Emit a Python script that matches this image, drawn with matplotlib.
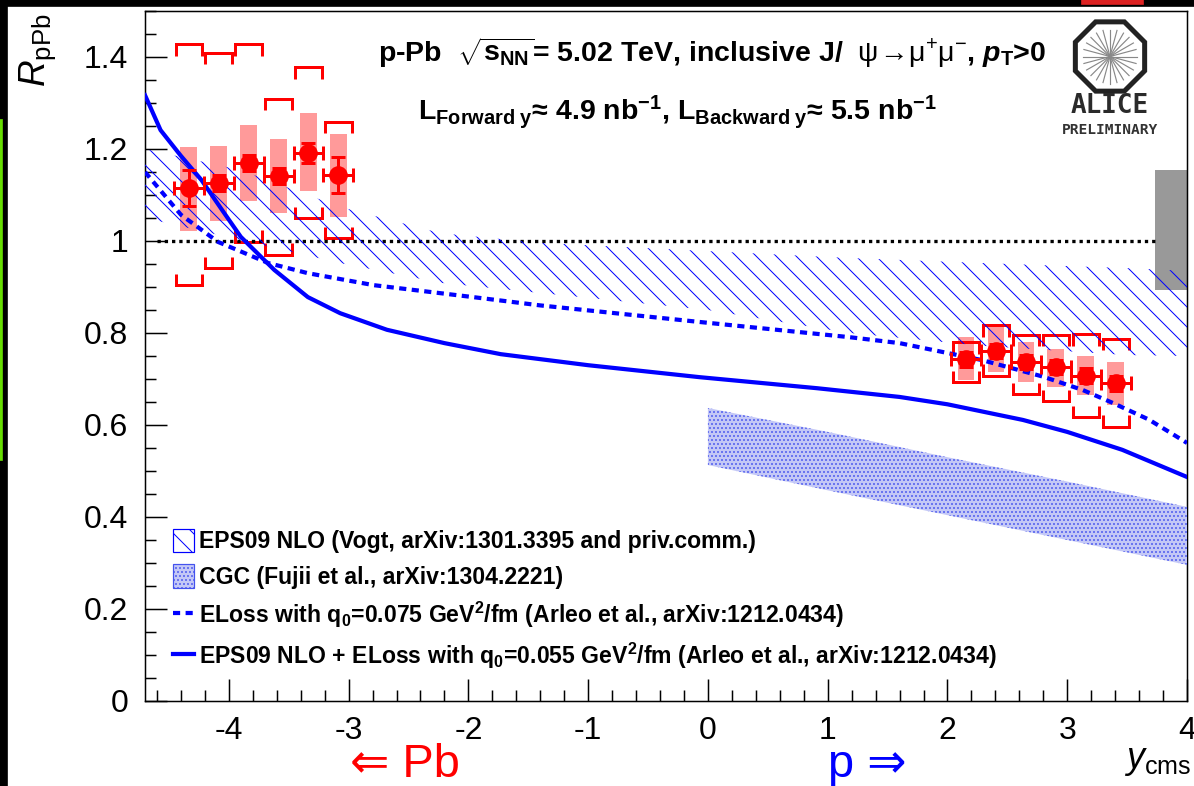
import matplotlib
matplotlib.use('Agg')
import matplotlib.pyplot as plt
import numpy as np
from matplotlib.patches import Patch, Rectangle, RegularPolygon
from matplotlib.lines import Line2D

# ---------------- data ----------------
bwd_y = [-4.335, -4.085, -3.835, -3.585, -3.335, -3.085]
bwd_r = [1.115, 1.126, 1.170, 1.141, 1.191, 1.143]
bwd_stat = [0.039, 0.018, 0.018, 0.018, 0.022, 0.039]
bwd_unc_lo = [1.022, 1.043, 1.087, 1.061, 1.109, 1.052]
bwd_unc_hi = [1.204, 1.207, 1.252, 1.222, 1.278, 1.233]
bwd_cor_lo = [0.904, 0.941, 0.998, 0.970, 1.050, 1.006]
bwd_cor_hi = [1.428, 1.409, 1.428, 1.309, 1.378, 1.259]

fwd_y = [2.155, 2.405, 2.655, 2.905, 3.155, 3.405]
fwd_r = [0.743, 0.761, 0.737, 0.726, 0.707, 0.691]
fwd_stat = [0.016, 0.016, 0.016, 0.016, 0.016, 0.016]
fwd_unc_lo = [0.698, 0.715, 0.693, 0.683, 0.665, 0.643]
fwd_unc_hi = [0.791, 0.813, 0.780, 0.765, 0.750, 0.737]
fwd_cor_lo = [0.693, 0.707, 0.667, 0.652, 0.617, 0.596]
fwd_cor_hi = [0.780, 0.817, 0.796, 0.796, 0.797, 0.787]

bin_halfwidth = 0.125
global_unc = [0.893, 1.154]

# EPS09 NLO band
eps_x = [-4.7, -3.9, -3.07, -2.23, -1.4, 0.0, 1.18, 2.3, 3.5, 4.0]
eps_hi = [1.200, 1.154, 1.074, 1.017, 0.996, 0.978, 0.963, 0.952, 0.941, 0.935]
eps_lo = [1.050, 1.002, 0.952, 0.909, 0.887, 0.850, 0.800, 0.772, 0.752, 0.750]

# CGC band
cgc_x = [0.0, 1.0, 2.0, 3.0, 4.0]
cgc_hi = [0.637, 0.585, 0.530, 0.477, 0.422]
cgc_lo = [0.513, 0.458, 0.404, 0.350, 0.296]

# ELoss q0=0.075
eloss_x = [-4.7, -4.4, -4.09, -3.67, -3.34, -2.79, -1.96, -1.4, -0.07, 1.18, 1.6, 2.29, 2.8, 3.13, 3.38, 3.68, 3.85, 4.0]
eloss_r = [1.150, 1.057, 0.998, 0.952, 0.930, 0.904, 0.878, 0.860, 0.824, 0.791, 0.778, 0.741, 0.705, 0.676, 0.648, 0.612, 0.585, 0.561]

# EPS09 NLO + ELoss q0=0.055
epsel_x = [-4.7, -4.57, -4.4, -4.23, -4.05, -3.9, -3.62, -3.34, -3.07, -2.68, -2.2, -1.73, -1.0, -0.07, 0.91, 1.6, 2.0, 2.63, 3.0, 3.46, 4.0]
epsel_r = [1.317, 1.241, 1.185, 1.133, 1.065, 1.009, 0.937, 0.878, 0.843, 0.807, 0.778, 0.754, 0.730, 0.704, 0.680, 0.661, 0.645, 0.611, 0.585, 0.546, 0.487]

x_ticks = [-4, -3, -2, -1, 0, 1, 2, 3, 4]
y_ticks = [0, 0.2, 0.4, 0.6, 0.8, 1.0, 1.2, 1.4]
y_ticklabels = ['0', '0.2', '0.4', '0.6', '0.8', '1', '1.2', '1.4']

legend_labels = [
    'EPS09 NLO (Vogt, arXiv:1301.3395 and priv.comm.)',
    'CGC (Fujii et al., arXiv:1304.2221)',
    r'ELoss with q$_{\mathrm{0}}$=0.075 GeV$^{\mathrm{2}}$/fm (Arleo et al., arXiv:1212.0434)',
    r'EPS09 NLO + ELoss with q$_{\mathrm{0}}$=0.055 GeV$^{\mathrm{2}}$/fm (Arleo et al., arXiv:1212.0434)',
]

# ---------------- style ----------------
W, H, DPI = 1194, 786, 120
PT = 72.0 / DPI  # points per pixel
plt.rcParams['font.family'] = ['Liberation Sans', 'DejaVu Sans']
plt.rcParams['axes.unicode_minus'] = False
plt.rcParams['mathtext.fontset'] = 'custom'
plt.rcParams['mathtext.rm'] = 'Liberation Sans:bold'
plt.rcParams['mathtext.it'] = 'Liberation Sans:italic'
plt.rcParams['mathtext.bf'] = 'Liberation Sans:bold:italic'
plt.rcParams['mathtext.sf'] = 'Liberation Sans'
plt.rcParams['hatch.linewidth'] = 0.6

BLUE = '#0000ff'
RED = '#ff0000'
PINK = '#ff9a9a'

fig = plt.figure(figsize=(W / DPI, H / DPI), dpi=DPI, facecolor='white')

def fx(px):
    return px / W

def fy(py):
    return 1 - py / H

ax = fig.add_axes([fx(145), fy(701), fx(1187) - fx(145), fy(11) - fy(701)])
ax.set_xlim(-4.7, 4.0)
ax.set_ylim(0, 1.5)

# global uncertainty box
ax.bar([4.0 - 0.135], [global_unc[1] - global_unc[0]], bottom=[global_unc[0]], width=0.27,
       color='#999999', zorder=1, linewidth=0)

# uncorrelated systematic boxes
for xs, lo, hi in [(bwd_y, bwd_unc_lo, bwd_unc_hi), (fwd_y, fwd_unc_lo, fwd_unc_hi)]:
    ax.bar(xs, np.array(hi) - np.array(lo), bottom=lo, width=0.14, color=PINK,
           linewidth=0, zorder=2)

# correlated systematics: brackets
bw = 0.11
bt = 0.025
for xs, lo, hi in [(bwd_y, bwd_cor_lo, bwd_cor_hi), (fwd_y, fwd_cor_lo, fwd_cor_hi)]:
    for x, l, h in zip(xs, lo, hi):
        ax.plot([x - bw, x - bw, x + bw, x + bw], [h - bt, h, h, h - bt], color=RED,
                lw=3 * PT, zorder=2.5, solid_joinstyle='miter', solid_capstyle='butt')
        ax.plot([x - bw, x - bw, x + bw, x + bw], [l + bt, l, l, l + bt], color=RED,
                lw=3 * PT, zorder=2.5, solid_joinstyle='miter', solid_capstyle='butt')

# unity line
ax.plot([-4.6, 3.73], [1.0, 1.0], color='black', lw=3.3 * PT, ls=(0, (1.0, 1.2)), zorder=2.6)

# EPS09 band
ax.fill_between(eps_x, eps_lo, eps_hi, facecolor='none', edgecolor=BLUE, hatch='\\\\',
                linewidth=0, zorder=3)
# CGC band
ax.fill_between(cgc_x, cgc_lo, cgc_hi, facecolor='#c4c8f6', edgecolor='#4452ee', hatch='.....',
                linewidth=0, zorder=3)

# model curves
ax.plot(eloss_x, eloss_r, color=BLUE, lw=4.2 * PT, ls=(0, (1.7, 1.3)), zorder=3.5)
ax.plot(epsel_x, epsel_r, color=BLUE, lw=4.2 * PT, zorder=3.5)

# data points
for xs, ys, es in [(bwd_y, bwd_r, bwd_stat), (fwd_y, fwd_r, fwd_stat)]:
    ax.errorbar(xs, ys, xerr=bin_halfwidth, yerr=es, fmt='o', color=RED, ms=17 * PT,
                elinewidth=3 * PT, capsize=7 * PT, capthick=3 * PT, zorder=5)

# axes styling
for s in ax.spines.values():
    s.set_linewidth(1.5 * PT)
ax.set_xticks(x_ticks)
ax.set_xticks(np.arange(-4.6, 4.01, 0.2), minor=True)
ax.set_yticks(y_ticks)
ax.set_yticklabels(y_ticklabels)
ax.set_yticks(np.arange(0, 1.501, 0.05), minor=True)
ax.tick_params(which='both', direction='in', top=False, right=False, width=1.5 * PT)
ax.tick_params(which='major', length=22 * PT, labelsize=32 * PT)
ax.tick_params(which='minor', length=11 * PT)
ax.tick_params(axis='y', pad=10)
ax.tick_params(axis='x', pad=9)

# legend
handles = [
    Patch(facecolor='white', edgecolor=BLUE, hatch='\\\\', linewidth=1.2 * PT),
    Patch(facecolor='#c4c8f6', edgecolor='#4452ee', hatch='.....', linewidth=1.2 * PT),
    Line2D([], [], color=BLUE, lw=4.2 * PT, ls=(0, (1.7, 1.3))),
    Line2D([], [], color=BLUE, lw=4.2 * PT),
]
LFS = 23.0
leg = ax.legend(handles, legend_labels, loc='upper left',
                bbox_to_anchor=(fx(173), fy(529)), bbox_transform=fig.transFigure,
                frameon=False, prop={'size': LFS * PT, 'weight': 'bold'},
                handlelength=21 / LFS, handleheight=27 / LFS, handletextpad=5 / LFS,
                labelspacing=11 / LFS, borderpad=0, borderaxespad=0)

# titles
TFS = 28.5
fig.text(fx(378), fy(62),
         r'p-Pb  $\sqrt{\mathrm{s}_{\mathrm{NN}}}$= 5.02 TeV, inclusive J/  '
         r'$\mathsf{\psi}\!\mathsf{\rightarrow}\!\mathsf{\mu^{+}\mu^{-}}$, $\mathbf{p}_{\mathrm{T}}$>0',
         fontsize=TFS * PT, fontweight='bold', ha='left', va='baseline')
fig.text(fx(418), fy(120),
         r'L$_{\mathrm{Forward\ y}}$≈ 4.9 nb$^{\mathrm{-1}}$, L$_{\mathrm{Backward\ y}}$≈ 5.5 nb$^{\mathrm{-1}}$',
         fontsize=TFS * PT, fontweight='bold', ha='left', va='baseline')

# axis titles
fig.text(fx(38), fy(13), r'$R_{\mathsf{pPb}}$', rotation=90, ha='center', va='top',
         fontsize=37 * PT)
fig.text(fx(1191), fy(768), r'$y_{\mathsf{cms}}$', ha='right', va='baseline', fontsize=36 * PT)
fig.text(fx(350), fy(777), '⇐ Pb', color=RED, ha='left', va='baseline', fontsize=47 * PT)
fig.text(fx(828), fy(777), 'p ⇒', color=BLUE, ha='left', va='baseline', fontsize=47 * PT)

# ALICE logo
lax = fig.add_axes([fx(1060), fy(140), fx(1160) - fx(1060), fy(15) - fy(140)])
lax.set_xlim(0, 100)
lax.set_ylim(0, 125)
lax.axis('off')
cx, cy = 50, 140 - 56.5
for a in np.linspace(0, np.pi, 13)[:-1]:
    lax.plot([cx - 27 * np.cos(a), cx + 27 * np.cos(a)], [cy - 27 * np.sin(a), cy + 27 * np.sin(a)],
             color='#888888', lw=0.7)
lax.add_patch(RegularPolygon((cx, cy), numVertices=8, radius=37.5, orientation=np.pi / 8,
                             facecolor='none', edgecolor='#222222', lw=5 * PT))
lax.text(50, 34, 'ALICE', family='DejaVu Sans Mono', fontsize=26 * PT, ha='center', va='center',
         color='#2a2a2a', fontweight='bold')
lax.text(50, 10, 'PRELIMINARY', family='DejaVu Sans Mono', fontsize=14.5 * PT, ha='center',
         va='center', color='#333333', fontweight='bold')

# screen border decorations
fig.patches.append(Rectangle((0, fy(6)), 1, 6 / H, transform=fig.transFigure, color='black'))
fig.patches.append(Rectangle((0, 0), 7 / W, 1, transform=fig.transFigure, color='black'))
fig.patches.append(Rectangle((0, fy(460)), 2 / W, 340 / H, transform=fig.transFigure,
                             color='#66dd00'))
fig.patches.append(Rectangle((fx(1082), fy(4)), 61 / W, 4 / H, transform=fig.transFigure,
                             color='#dd2222'))

fig.savefig('out.png', dpi=DPI, facecolor='white')
